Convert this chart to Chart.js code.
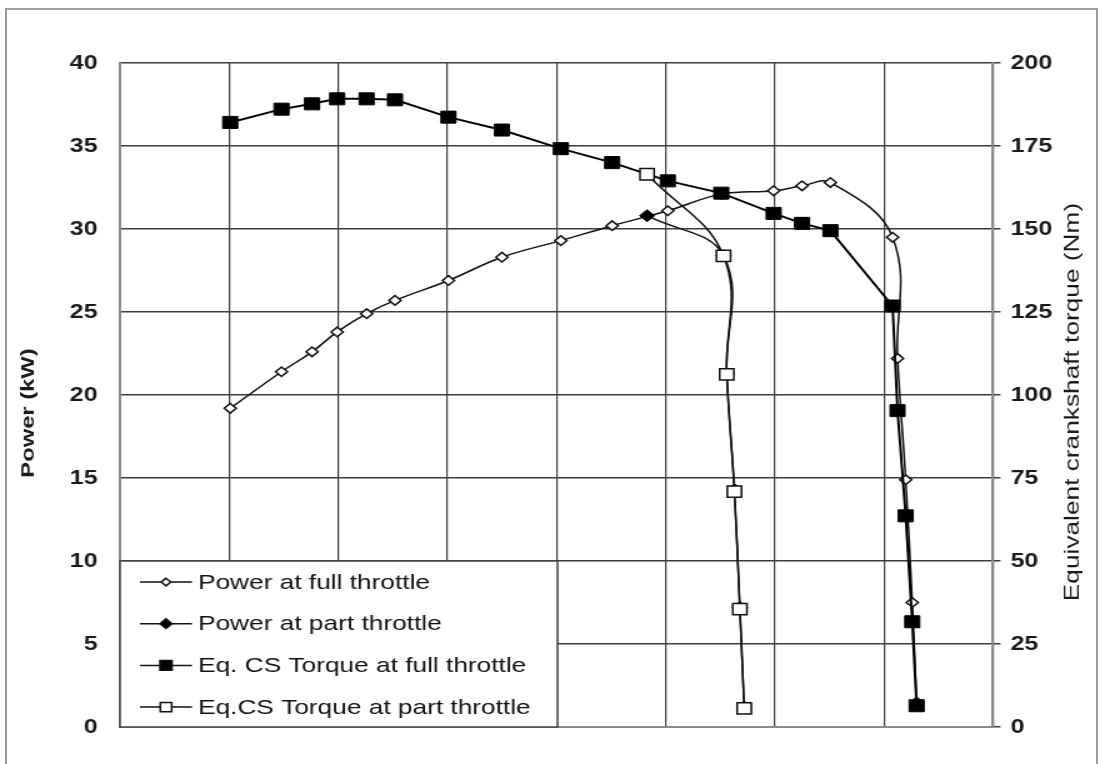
<!DOCTYPE html>
<html lang="en">
<head>
    <meta charset="UTF-8">
    <title>Power and equivalent crankshaft torque</title>
    <style>
        html, body { margin: 0; padding: 0; background: #fff; }
        body { width: 1102px; height: 764px; overflow: hidden; position: relative; }
        /* the source picture is stretched sideways, so the chart is drawn narrow and widened */
        #wrap { position: absolute; left: 0; top: 0; width: 882px; height: 764px; transform: scaleX(1.25); transform-origin: 0 0; }
        #frame { position: absolute; left: 5px; top: 8px; width: 1093px; height: 800px; border: 2px solid #9c9c9c; box-sizing: border-box; pointer-events: none; }
    </style>
</head>
<body>
    <div id="wrap"><canvas id="chart"></canvas></div>
    <div id="frame"></div>

    <script src="https://cdn.jsdelivr.net/npm/chart.js"></script>
    <script>
        // engine speed in grid units (the x axis has no labels)
        const speedGrid = [0, 1, 2, 3, 4, 5, 6, 7, 8];
        const powerTicks = [0, 5, 10, 15, 20, 25, 30, 35, 40];
        const torqueTicks = [0, 25, 50, 75, 100, 125, 150, 175, 200];

        // full throttle
        const speedFull = [1.01, 1.48, 1.76, 1.99, 2.26, 2.52, 3.01, 3.50, 4.04, 4.51, 5.02, 5.51, 5.99, 6.25, 6.51, 7.08, 7.125, 7.20, 7.26, 7.30];
        const powerFull = [19.2, 21.4, 22.6, 23.8, 24.9, 25.7, 26.9, 28.3, 29.3, 30.2, 31.1, 32.1, 32.3, 32.6, 32.8, 29.5, 22.2, 14.9, 7.5, 1.5];
        const torqueFull = [182.1, 186.1, 187.7, 189.2, 189.2, 188.9, 183.7, 179.8, 174.2, 170.0, 164.5, 160.8, 154.7, 151.7, 149.5, 126.8, 95.3, 63.6, 31.7, 6.4];

        // part throttle
        const speedPart = [4.83, 5.53, 5.56, 5.63, 5.68, 5.72];
        const powerPart = [30.8, 28.4, 21.3, 14.3, 7.2, 1.2];
        const torquePart = [166.5, 141.9, 106.2, 70.9, 35.5, 5.6];

        function pts(xs, ys) {
            return xs.map((x, i) => ({ x: x, y: ys[i] }));
        }

        const FONT = '"Liberation Sans", Arial, sans-serif';
        const GRID = '#3c3c3c';
        const AXIS = '#8a8a8a';
        const STRETCH = 1.25;

        // rotated axis titles, stretched along the text like the horizontal text
        const axisTitles = {
            id: 'axisTitles',
            afterDraw(chart) {
                const ctx = chart.ctx;
                const items = [
                    { text: 'Power (kW)', x: 23.2, y: 413, font: 'bold 19px ' + FONT },
                    { text: 'Equivalent crankshaft torque (Nm)', x: 858.4, y: 402, font: '21px ' + FONT }
                ];
                items.forEach(t => {
                    ctx.save();
                    ctx.translate(t.x, t.y);
                    ctx.rotate(-Math.PI / 2);
                    ctx.scale(STRETCH, 1 / STRETCH);
                    ctx.font = t.font;
                    ctx.fillStyle = '#1a1a1a';
                    ctx.textAlign = 'center';
                    ctx.textBaseline = 'middle';
                    ctx.fillText(t.text, 0, 0);
                    ctx.restore();
                });
            }
        };

        // legend box drawn in the lower left corner of the plot
        const legendBox = {
            id: 'legendBox',
            afterDraw(chart) {
                const ctx = chart.ctx;
                const area = chart.chartArea;
                const w = 350, h = 166;
                const x0 = area.left, y0 = area.bottom - h;
                ctx.save();
                ctx.fillStyle = '#fff';
                ctx.fillRect(x0, y0, w, h);
                ctx.strokeStyle = '#444';
                ctx.lineWidth = 1.5;
                ctx.strokeRect(x0, y0, w, h);

                ctx.font = '21px ' + FONT;
                ctx.textBaseline = 'middle';
                chart.data.datasets.forEach((ds, i) => {
                    const y = y0 + 21 + i * 41.7;
                    ctx.strokeStyle = '#111';
                    ctx.lineWidth = 1.5;
                    ctx.beginPath();
                    ctx.moveTo(x0 + 16, y);
                    ctx.lineTo(x0 + 57.6, y);
                    ctx.stroke();

                    const r = ds.pointRadius * 0.8;
                    const cx = x0 + 36.8;
                    ctx.beginPath();
                    if (ds.pointStyle === 'rectRot') {
                        ctx.moveTo(cx, y - r);
                        ctx.lineTo(cx + r, y);
                        ctx.lineTo(cx, y + r);
                        ctx.lineTo(cx - r, y);
                        ctx.closePath();
                    } else {
                        const s = r * Math.SQRT1_2;
                        ctx.rect(cx - s, y - s, 2 * s, 2 * s);
                    }
                    ctx.fillStyle = ds.pointBackgroundColor;
                    ctx.fill();
                    ctx.stroke();

                    ctx.fillStyle = '#111';
                    ctx.fillText(ds.label, x0 + 62.4, y + 1);
                });
                ctx.restore();
            }
        };

        new Chart(document.getElementById('chart'), {
            type: 'line',
            data: {
                datasets: [
                    {
                        label: 'Power at full throttle',
                        data: pts(speedFull, powerFull),
                        yAxisID: 'y',
                        borderColor: '#111',
                        borderWidth: 1.5,
                        tension: 0.4,
                        pointStyle: 'rectRot',
                        pointRadius: 4.8,
                        pointBackgroundColor: '#fff',
                        pointBorderColor: '#111',
                        pointBorderWidth: 1.5,
                        order: 4
                    },
                    {
                        label: 'Power at part throttle',
                        data: pts(speedPart, powerPart),
                        yAxisID: 'y',
                        borderColor: '#111',
                        borderWidth: 1.5,
                        tension: 0.4,
                        pointStyle: 'rectRot',
                        pointRadius: 6,
                        pointBackgroundColor: '#000',
                        pointBorderColor: '#000',
                        pointBorderWidth: 1,
                        order: 3
                    },
                    {
                        label: 'Eq. CS Torque at full throttle',
                        data: pts(speedFull, torqueFull),
                        yAxisID: 'y2',
                        borderColor: '#000',
                        borderWidth: 2,
                        tension: 0,
                        pointStyle: 'rect',
                        pointRadius: 8.5,
                        pointBackgroundColor: '#000',
                        pointBorderColor: '#000',
                        pointBorderWidth: 1,
                        order: 2
                    },
                    {
                        label: 'Eq.CS Torque at part throttle',
                        data: pts(speedPart, torquePart),
                        yAxisID: 'y2',
                        borderColor: '#111',
                        borderWidth: 1.5,
                        tension: 0.4,
                        pointStyle: 'rect',
                        pointRadius: 8,
                        pointBackgroundColor: '#fff',
                        pointBorderColor: '#111',
                        pointBorderWidth: 1.5,
                        order: 1
                    }
                ]
            },
            options: {
                responsive: true,
                maintainAspectRatio: false,
                animation: false,
                layout: { padding: { top: 63, bottom: 37, left: 0, right: 0 } },
                plugins: {
                    legend: { display: false },
                    tooltip: { enabled: false }
                },
                scales: {
                    x: {
                        type: 'linear',
                        min: 0,
                        max: 8,
                        afterBuildTicks: s => { s.ticks = speedGrid.map(v => ({ value: v })); },
                        ticks: { display: false },
                        grid: { color: GRID, lineWidth: 1.2, drawTicks: false },
                        border: { color: AXIS, width: 2 }
                    },
                    y: {
                        position: 'left',
                        min: 0,
                        max: 40,
                        afterBuildTicks: s => { s.ticks = powerTicks.map(v => ({ value: v })); },
                        afterFit: s => { s.width = 96; },
                        ticks: { padding: 18, color: '#1a1a1a', font: { family: FONT, size: 20, weight: 'bold' } },
                        grid: { color: GRID, lineWidth: 1.5, drawTicks: false },
                        border: { color: AXIS, width: 2 }
                    },
                    y2: {
                        position: 'right',
                        min: 0,
                        max: 200,
                        afterBuildTicks: s => { s.ticks = torqueTicks.map(v => ({ value: v })); },
                        afterFit: s => { s.width = 87.6; },
                        ticks: { padding: 8, color: '#1a1a1a', font: { family: FONT, size: 20, weight: 'bold' } },
                        grid: { drawOnChartArea: false, drawTicks: true, tickLength: 6, color: GRID, lineWidth: 1.5 },
                        border: { color: AXIS, width: 2 }
                    }
                }
            },
            plugins: [axisTitles, legendBox]
        });
    </script>
</body>
</html>
